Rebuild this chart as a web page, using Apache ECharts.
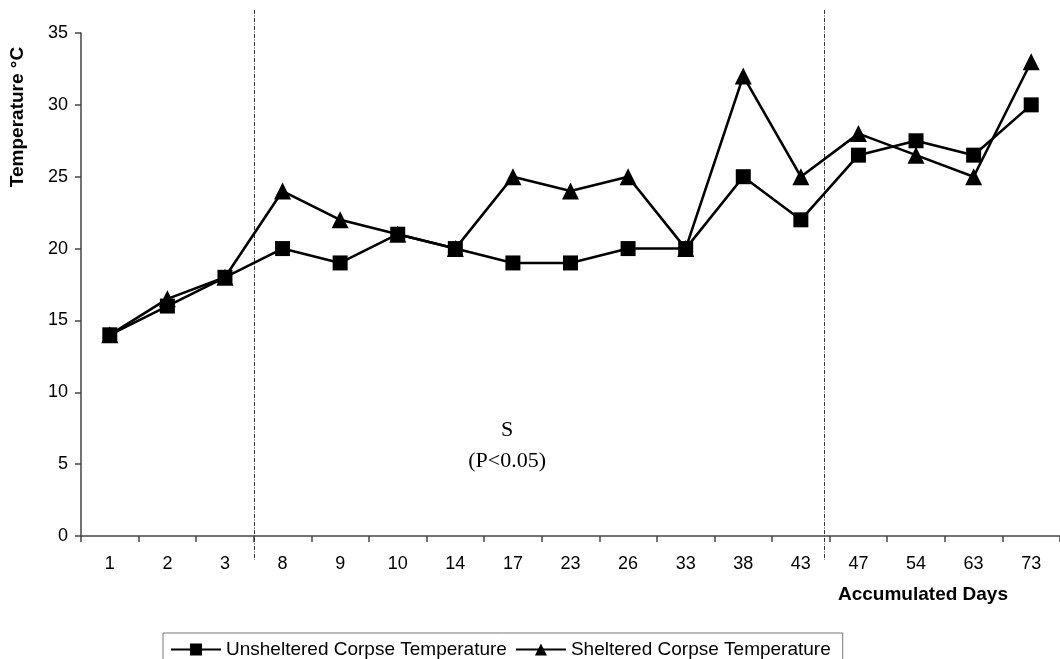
<!DOCTYPE html>
<html>
<head>
<meta charset="utf-8">
<script src="https://cdn.jsdelivr.net/npm/echarts@6/dist/echarts.min.js"></script>
<style>
html,body{margin:0;padding:0;background:#fff;}
#chart{width:1060px;height:659px;}
</style>
</head>
<body>
<div id="chart"></div>
<script>
var categories = ['1','2','3','8','9','10','14','17','23','26','33','38','43','47','54','63','73'];
var unsheltered = [14,16,18,20,19,21,20,19,19,20,20,25,22,26.5,27.5,26.5,30];
var sheltered = [14,16.5,18,24,22,21,20,25,24,25,20,32,25,28,26.5,25,33];
var seriesNames = ['Unsheltered Corpse Temperature','Sheltered Corpse Temperature'];
var yTicks = {min:0, max:35, interval:5};
var dividerPositions = [2.5, 12.4]; // in category-index units
var annotation = ['S','(P<0.05)'];
var annotationPosition = 6.9; // in category-index units

var chart = echarts.init(document.getElementById('chart'), null, {renderer:'canvas'});
var font = 'Liberation Sans, Arial, Helvetica, sans-serif';
var option = {
  animation:false,
  backgroundColor:'#fff',
  grid:{left:81, right:-4, top:33, bottom:123, containLabel:false},
  xAxis:{
    type:'category', data:categories, boundaryGap:true,
    axisLine:{lineStyle:{color:'#444', width:1.5}},
    axisTick:{show:true, length:6, lineStyle:{color:'#444', width:1.5}, alignWithLabel:false},
    axisLabel:{color:'#000', fontSize:18, fontFamily:font, margin:19, interval:0},
    splitLine:{show:false}
  },
  yAxis:{
    type:'value', min:yTicks.min, max:yTicks.max, interval:yTicks.interval,
    axisLine:{show:true, lineStyle:{color:'#444', width:1.5}},
    axisTick:{show:true, length:6, lineStyle:{color:'#444', width:1.5}},
    axisLabel:{color:'#000', fontSize:18, fontFamily:font, margin:13},
    splitLine:{show:false}
  },
  legend:{
    data:seriesNames, left:163, top:633,
    borderColor:'#777', borderWidth:1, padding:[7,12,10,7],
    itemWidth:50, itemHeight:15, itemGap:8,
    textStyle:{color:'#000', fontSize:19, fontFamily:font}
  },
  series:[
    {name:seriesNames[0], type:'line', data:unsheltered, symbol:'rect', symbolSize:15,
     lineStyle:{color:'#000', width:2.6}, itemStyle:{color:'#000'}},
    {name:seriesNames[1], type:'line', data:sheltered, symbol:'triangle', symbolSize:17,
     lineStyle:{color:'#000', width:2.6}, itemStyle:{color:'#000'}}
  ]
};
chart.setOption(option);

function xAt(pos){
  var i = Math.floor(pos), f = pos - i;
  var a = chart.convertToPixel({xAxisIndex:0}, categories[i]);
  var b = chart.convertToPixel({xAxisIndex:0}, categories[i+1]);
  return a + (b - a) * f;
}
var graphics = [];
dividerPositions.forEach(function(p){
  var x = Math.round(xAt(p)) + 0.5;
  graphics.push({type:'line', z:1, shape:{x1:x, y1:10, x2:x, y2:560},
    style:{stroke:'#333', lineWidth:1, lineDash:[4,1.5,1,1.5]}});
});
graphics.push({type:'text', rotation:Math.PI/2, x:18, y:117,
  style:{text:'Temperature °C', font:'bold 19px ' + font, fill:'#000', textAlign:'center', textVerticalAlign:'middle'}});
graphics.push({type:'text', x:923, y:595,
  style:{text:'Accumulated Days', font:'bold 19px ' + font, fill:'#000', textAlign:'center', textVerticalAlign:'middle'}});
var annX = xAt(annotationPosition);
graphics.push({type:'text', x:annX, y:430,
  style:{text:annotation[0], font:'22px Liberation Serif, Times New Roman, serif', fill:'#000', textAlign:'center', textVerticalAlign:'middle'}});
graphics.push({type:'text', x:annX, y:461,
  style:{text:annotation[1], font:'22px Liberation Serif, Times New Roman, serif', fill:'#000', textAlign:'center', textVerticalAlign:'middle'}});
chart.setOption({graphic:graphics});
</script>
</body>
</html>
